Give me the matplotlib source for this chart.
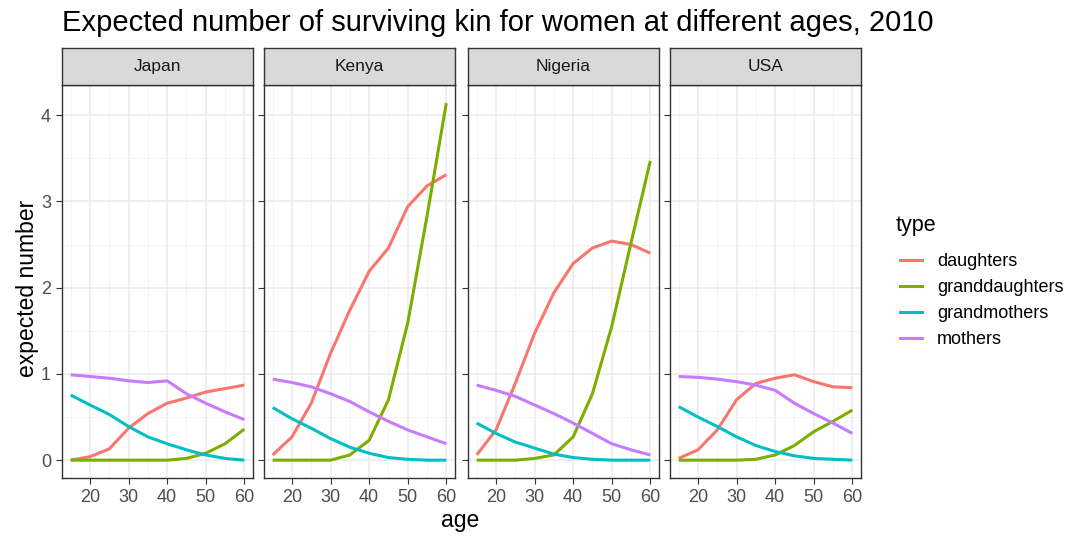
import numpy as np
import matplotlib
matplotlib.use("Agg")
import matplotlib.pyplot as plt
from matplotlib.lines import Line2D

plt.rcParams['font.family'] = ['Liberation Sans', 'DejaVu Sans']

ages = [15, 20, 25, 30, 35, 40, 45, 50, 55, 60]
countries = ['Japan', 'Kenya', 'Nigeria', 'USA']
kin_types = ['daughters', 'granddaughters', 'grandmothers', 'mothers']
colors = ['#F8766D', '#7CAE00', '#00BFC4', '#C77CFF']

japan_daughters = [0.0, 0.04, 0.13, 0.37, 0.54, 0.66, 0.72, 0.79, 0.83, 0.87]
japan_granddaughters = [0.0, 0.0, 0.0, 0.0, 0.0, 0.0, 0.02, 0.08, 0.19, 0.36]
japan_grandmothers = [0.755, 0.64, 0.53, 0.39, 0.27, 0.19, 0.12, 0.06, 0.02, 0.0]
japan_mothers = [0.99, 0.97, 0.95, 0.92, 0.90, 0.92, 0.77, 0.66, 0.56, 0.47]

kenya_daughters = [0.06, 0.27, 0.66, 1.24, 1.74, 2.19, 2.46, 2.94, 3.18, 3.31]
kenya_granddaughters = [0.0, 0.0, 0.0, 0.0, 0.06, 0.23, 0.70, 1.59, 2.83, 4.14]
kenya_grandmothers = [0.61, 0.48, 0.37, 0.25, 0.15, 0.08, 0.03, 0.01, 0.0, 0.0]
kenya_mothers = [0.94, 0.90, 0.85, 0.77, 0.68, 0.56, 0.45, 0.35, 0.27, 0.19]

nigeria_daughters = [0.06, 0.35, 0.89, 1.47, 1.94, 2.28, 2.46, 2.54, 2.50, 2.40]
nigeria_granddaughters = [0.0, 0.0, 0.0, 0.02, 0.06, 0.27, 0.77, 1.55, 2.52, 3.47]
nigeria_grandmothers = [0.43, 0.31, 0.21, 0.14, 0.07, 0.03, 0.01, 0.0, 0.0, 0.0]
nigeria_mothers = [0.87, 0.81, 0.74, 0.64, 0.54, 0.43, 0.31, 0.19, 0.12, 0.06]

usa_daughters = [0.02, 0.12, 0.35, 0.70, 0.89, 0.95, 0.99, 0.91, 0.85, 0.84]
usa_granddaughters = [0.0, 0.0, 0.0, 0.0, 0.01, 0.06, 0.17, 0.33, 0.45, 0.58]
usa_grandmothers = [0.62, 0.50, 0.39, 0.27, 0.17, 0.10, 0.05, 0.02, 0.01, 0.0]
usa_mothers = [0.97, 0.96, 0.94, 0.91, 0.87, 0.81, 0.66, 0.54, 0.43, 0.31]

data = {
    'Japan': [japan_daughters, japan_granddaughters, japan_grandmothers, japan_mothers],
    'Kenya': [kenya_daughters, kenya_granddaughters, kenya_grandmothers, kenya_mothers],
    'Nigeria': [nigeria_daughters, nigeria_granddaughters, nigeria_grandmothers, nigeria_mothers],
    'USA': [usa_daughters, usa_granddaughters, usa_grandmothers, usa_mothers],
}

W, H = 1073, 538
fig = plt.figure(figsize=(W / 100, H / 100), dpi=100)

# panel geometry in pixels
panel_left = [62, 264, 468, 670]
panel_w = 191
panel_top, panel_bot = 85, 478
strip_top = 48

grey20 = '#333333'
for i, country in enumerate(countries):
    x0 = panel_left[i]
    ax = fig.add_axes([x0 / W, 1 - panel_bot / H, panel_w / W, (panel_bot - panel_top) / H])
    for vals, col in zip(data[country], colors):
        ax.plot(ages, vals, color=col, lw=2.2, solid_capstyle='butt', zorder=3)
    ax.set_xlim(12.75, 62.25)
    ax.set_ylim(-0.207, 4.35)
    ax.set_xticks([20, 30, 40, 50, 60])
    ax.set_xticks([15, 25, 35, 45, 55], minor=True)
    ax.set_yticks([0, 1, 2, 3, 4])
    ax.set_yticks([0.5, 1.5, 2.5, 3.5], minor=True)
    ax.grid(which='major', color='#EBEBEB', lw=1.1, zorder=0)
    ax.grid(which='minor', color='#F2F2F2', lw=0.6, zorder=0)
    ax.set_axisbelow(True)
    for s in ax.spines.values():
        s.set_color(grey20)
        s.set_linewidth(1.0)
    ax.tick_params(which='major', length=4, color=grey20, labelcolor='#4D4D4D',
                   labelsize=13, pad=4)
    ax.tick_params(which='minor', length=0)
    if i > 0:
        ax.tick_params(axis='y', labelleft=False)

    # facet strip
    sax = fig.add_axes([x0 / W, 1 - panel_top / H, panel_w / W, (panel_top - strip_top) / H])
    sax.set_facecolor('#D9D9D9')
    sax.set_xticks([])
    sax.set_yticks([])
    for s in sax.spines.values():
        s.set_color(grey20)
        s.set_linewidth(1.0)
    sax.text(0.5, 0.5, country, ha='center', va='center', fontsize=12.5, color='#1A1A1A',
             transform=sax.transAxes)

fig.text(62 / W, 1 - 23 / H, 'Expected number of surviving kin for women at different ages, 2010',
         fontsize=21, ha='left', va='center')
fig.text(460 / W, 1 - 521 / H, 'age', fontsize=16.5, ha='center', va='center')
fig.text(28 / W, 1 - 288 / H, 'expected number', fontsize=16.5, ha='center', va='center',
         rotation=90)

# legend
fig.text(896 / W, 1 - 226 / H, 'type', fontsize=15.5, ha='left', va='center')
handles = [Line2D([], [], color=c, lw=2.2) for c in colors]
leg = fig.legend(handles, kin_types, loc='upper left',
                 bbox_to_anchor=(884 / W, 1 - 237 / H), frameon=False, fontsize=13,
                 handlelength=1.2, handletextpad=0.85, labelspacing=0.5)

fig.savefig('out.png', dpi=100)
